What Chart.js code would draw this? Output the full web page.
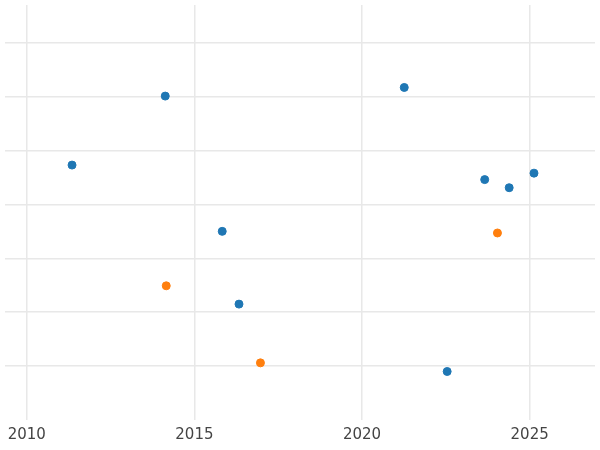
<!DOCTYPE html>
<html><head><meta charset="utf-8">
<script src="https://cdn.jsdelivr.net/npm/chart.js@4"></script>
<style>html,body{margin:0;padding:0;background:#fff}#w{width:600px;height:450px}</style>
</head><body><div id="w"><canvas id="c"></canvas></div>
<script>
const blueX=[2011.35,2014.13,2015.83,2016.33,2021.26,2023.66,2024.39,2025.13,2022.54];
const blueY=[4.73,6.01,3.50,2.15,6.17,4.46,4.31,4.58,0.90];
const orangeX=[2014.16,2016.97,2024.04];
const orangeY=[2.49,1.06,3.47];
const xTicks=[2010,2015,2020,2025];
const pts=(xs,ys)=>xs.map((x,i)=>({x:x,y:ys[i]}));
new Chart(document.getElementById('c'),{
 type:'scatter',
 data:{datasets:[
  {data:pts(blueX,blueY),backgroundColor:'#1f77b4',borderColor:'#1f77b4',pointRadius:4},
  {data:pts(orangeX,orangeY),backgroundColor:'#ff7f0e',borderColor:'#ff7f0e',pointRadius:4}
 ]},
 options:{responsive:true,maintainAspectRatio:false,animation:false,
  layout:{padding:{left:-6,right:-6,top:-6,bottom:0}},
  plugins:{legend:{display:false},tooltip:{enabled:false}},
  scales:{
   x:{type:'linear',min:2009.35,max:2026.95,
    afterBuildTicks:a=>{a.ticks=xTicks.map(v=>({value:v}));},
    ticks:{color:'#444',font:{family:'DejaVu Sans',size:15},padding:6,callback:v=>String(v)},
    grid:{color:'#e8e8e8',lineWidth:1.5,drawTicks:false},border:{display:false}},
   y:{min:0,max:7.7,
    afterBuildTicks:a=>{a.ticks=[1,2,3,4,5,6,7].map(v=>({value:v}));},
    ticks:{display:false},
    grid:{color:'#e8e8e8',lineWidth:1.5,drawTicks:false},border:{display:false}}
  }}
});
</script></body></html>
